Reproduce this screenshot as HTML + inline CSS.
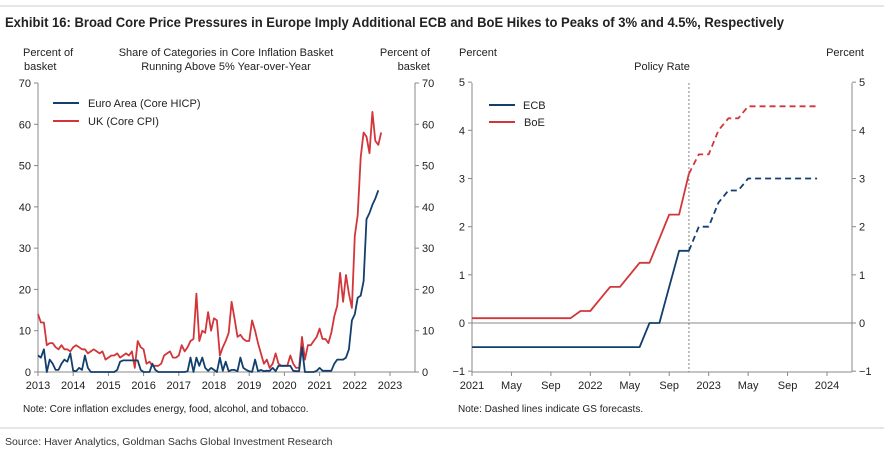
<!DOCTYPE html>
<html><head><meta charset="utf-8"><style>
body{margin:0;background:#fff;}
svg{display:block;font-family:"Liberation Sans",sans-serif;}
</style></head><body>
<svg id="c" width="884" height="450" viewBox="0 0 884 450">
<line x1="0" y1="6" x2="884" y2="6" stroke="#ccc"/>
<text x="5" y="27" font-size="14" font-weight="bold" fill="#222" textLength="779" lengthAdjust="spacingAndGlyphs">Exhibit 16: Broad Core Price Pressures in Europe Imply Additional ECB and BoE Hikes to Peaks of 3% and 4.5%, Respectively</text>
<g font-size="11" fill="#222">
<text x="23" y="56">Percent of</text>
<text x="24" y="70">basket</text>
<text x="226" y="56" text-anchor="middle">Share of Categories in Core Inflation Basket</text>
<text x="226" y="70" text-anchor="middle">Running Above 5% Year-over-Year</text>
<text x="430" y="56" text-anchor="end">Percent of</text>
<text x="430" y="70" text-anchor="end">basket</text>
<text x="23" y="412" font-size="10">Note: Core inflation excludes energy, food, alcohol, and tobacco.</text>
<text x="459" y="56">Percent</text>
<text x="864" y="56" text-anchor="end">Percent</text>
<text x="662" y="70" text-anchor="middle">Policy Rate</text>
<text x="458" y="412" font-size="10">Note: Dashed lines indicate GS forecasts.</text>
</g>
<line x1="0" y1="428" x2="884" y2="428" stroke="#ccc"/>
<text x="5" y="445" font-size="10.5" fill="#333">Source: Haver Analytics, Goldman Sachs Global Investment Research</text>
<g id="L"></g><g id="R"></g>
</svg>
<script>
const leftYTicks=[0,10,20,30,40,50,60,70];
const leftXYears=[2013,2014,2015,2016,2017,2018,2019,2020,2021,2022,2023];
const euroArea=[4,3.5,5.5,0,3,2,0.5,0.5,2,3,2.5,4.5,
0.3,0.2,1,0.5,4,1,0,0,0,0,0,0,
0,0,0,0.5,2.5,2.8,2.8,2.8,2.8,2.8,2.8,0.5,
0,0,0,2,0.5,0,0,0,0,0,0,0,
0,0,0,0.2,3.5,0,3.5,1.5,3.5,1,0.3,1,
0.5,0,3.5,0.3,2.5,0.2,0.5,0.5,0.2,3.5,1,0.5,
0.2,0,3,0.2,0.5,0.2,0.3,0.3,1,0.2,1.5,1.5,
1.5,1.5,1.5,0.3,0.2,0.2,6,0,0,0,0,0.3,
1,0.3,0.3,0.3,0.3,2,3,3,3,3.5,5.5,12.5,
14,18,18.5,22,37,38.5,40.5,42,44];
const ukCore=[14,12,12,6.5,7,7,6,5.5,6.5,5.5,5.5,5,
6,6.5,6,5.5,5.5,4.5,5,5.5,5,4.5,5,3,
3.5,4,4,4.5,3.5,4,4.5,4,5,1,7.5,6,
5.5,2,2.5,1.5,1.5,1.5,2,4,4.5,5,3.5,3.5,
4,6.5,5,6,7.5,8,19,7.5,10,9.5,14.5,10,
13,12.5,4,6,7.5,9.5,17,13,8.5,9,8,7.5,
7.5,12.5,10,7,4.5,2,3,1,2,4.5,2,1.5,
1.5,1.5,4,2,1,1,8.5,3,6.5,6.5,7.5,8.5,
10.5,8,8,7,9.5,13.5,16,24,17,23.5,19,15.5,
33,38,52,58,57,53,63,56,55,58];
const rightYTicks=[-1,0,1,2,3,4,5];
const rightXLabels=["2021","May","Sep","2022","May","Sep","2023","May","Sep","2024"];
const ecbActual=[-0.5,-0.5,-0.5,-0.5,-0.5,-0.5,-0.5,-0.5,-0.5,-0.5,-0.5,-0.5,-0.5,-0.5,-0.5,-0.5,-0.5,-0.5,0,0,0.75,1.5,1.5];
const ecbForecast=[1.5,2,2,2.5,2.75,2.75,3,3,3,3,3,3,3,3];
const boeActual=[0.1,0.1,0.1,0.1,0.1,0.1,0.1,0.1,0.1,0.1,0.1,0.25,0.25,0.5,0.75,0.75,1,1.25,1.25,1.75,2.25,2.25,3.1];
const boeForecast=[3.1,3.5,3.5,4,4.25,4.25,4.5,4.5,4.5,4.5,4.5,4.5,4.5,4.5];
const NS="http://www.w3.org/2000/svg";
function mk(p,t,a){const e=document.createElementNS(NS,t);for(const k in a)e.setAttribute(k,a[k]);p.appendChild(e);return e;}
// LEFT
const L=document.getElementById('L');
const lx=m=>38+m*(352/120), ly=v=>372-v*(289/70);
mk(L,'line',{x1:38,y1:83,x2:38,y2:372,stroke:'#888'});
mk(L,'line',{x1:415,y1:83,x2:415,y2:372,stroke:'#888'});
mk(L,'line',{x1:38,y1:372,x2:415,y2:372,stroke:'#888'});
leftYTicks.forEach(v=>{
 mk(L,'line',{x1:34,x2:38,y1:ly(v),y2:ly(v),stroke:'#888'});
 mk(L,'line',{x1:415,x2:419,y1:ly(v),y2:ly(v),stroke:'#888'});
 const t=mk(L,'text',{x:31,y:ly(v)+4,'text-anchor':'end','font-size':11,fill:'#222'});t.textContent=v;
 
 const t2=mk(L,'text',{x:422,y:ly(v)+4,'font-size':11,fill:'#222'});t2.textContent=v;
 
});
leftXYears.forEach((y,i)=>{
 const x=lx(i*12);
 mk(L,'line',{x1:x,x2:x,y1:372,y2:376,stroke:'#888'});
 const t=mk(L,'text',{x:x,y:389,'text-anchor':'middle','font-size':11,fill:'#222'});t.textContent=y;
 
});
function poly(p,arr,fx,fy,off,col,dash){
 const pts=arr.map((v,i)=>fx(i+off).toFixed(1)+','+fy(v).toFixed(1)).join(' ');
 const a={points:pts,fill:'none',stroke:col,'stroke-width':1.8,'stroke-linejoin':'round'};
 if(dash)a['stroke-dasharray']=dash;
 return mk(p,'polyline',a);
}
const uk=poly(L,ukCore,lx,ly,0,'#d2363a');


const ea=poly(L,euroArea,lx,ly,0,'#123f6e');


mk(L,'line',{x1:53,x2:79,y1:103,y2:103,stroke:'#123f6e','stroke-width':2});
mk(L,'line',{x1:53,x2:79,y1:121,y2:121,stroke:'#d2363a','stroke-width':2});
let t=mk(L,'text',{x:88,y:107,'font-size':11,fill:'#222'});t.textContent='Euro Area (Core HICP)';

t=mk(L,'text',{x:88,y:125,'font-size':11,fill:'#222'});t.textContent='UK (Core CPI)';

// RIGHT
const R=document.getElementById('R');
const rx=m=>472+m*(355/36), ry=v=>323-v*(289/6);
mk(R,'line',{x1:472,y1:83,x2:472,y2:372,stroke:'#888'});
mk(R,'line',{x1:852,y1:83,x2:852,y2:372,stroke:'#888'});
mk(R,'line',{x1:472,y1:372,x2:852,y2:372,stroke:'#888'});
mk(R,'line',{x1:472,y1:ry(0),x2:852,y2:ry(0),stroke:'#888'});
mk(R,'line',{x1:rx(22),y1:83,x2:rx(22),y2:372,stroke:'#666','stroke-dasharray':'2,2','stroke-width':0.8});
rightYTicks.forEach(v=>{
 mk(R,'line',{x1:468,x2:472,y1:ry(v),y2:ry(v),stroke:'#888'});
 mk(R,'line',{x1:852,x2:856,y1:ry(v),y2:ry(v),stroke:'#888'});
 const s=v<0?'\u22121':String(v);
 const a=mk(R,'text',{x:465,y:ry(v)+4,'text-anchor':'end','font-size':11,fill:'#222'});a.textContent=s;
 
 const b=mk(R,'text',{x:859,y:ry(v)+4,'font-size':11,fill:'#222'});b.textContent=s;
 
});
rightXLabels.forEach((l,i)=>{
 const x=rx(i*4);
 mk(R,'line',{x1:x,x2:x,y1:372,y2:376,stroke:'#888'});
 const a=mk(R,'text',{x:x,y:389,'text-anchor':'middle','font-size':11,fill:'#222'});a.textContent=l;
 
});
let p=poly(R,boeActual,rx,ry,0,'#d2363a');


p=poly(R,boeForecast,rx,ry,22,'#d2363a','6,4');


p=poly(R,ecbActual,rx,ry,0,'#123f6e');


p=poly(R,ecbForecast,rx,ry,22,'#123f6e','6,4');


mk(R,'line',{x1:489,x2:515,y1:105,y2:105,stroke:'#123f6e','stroke-width':2});
mk(R,'line',{x1:489,x2:515,y1:122,y2:122,stroke:'#d2363a','stroke-width':2});
t=mk(R,'text',{x:523,y:109,'font-size':11,fill:'#222'});t.textContent='ECB';

t=mk(R,'text',{x:524,y:126,'font-size':11,fill:'#222'});t.textContent='BoE';

</script>
</body></html>
